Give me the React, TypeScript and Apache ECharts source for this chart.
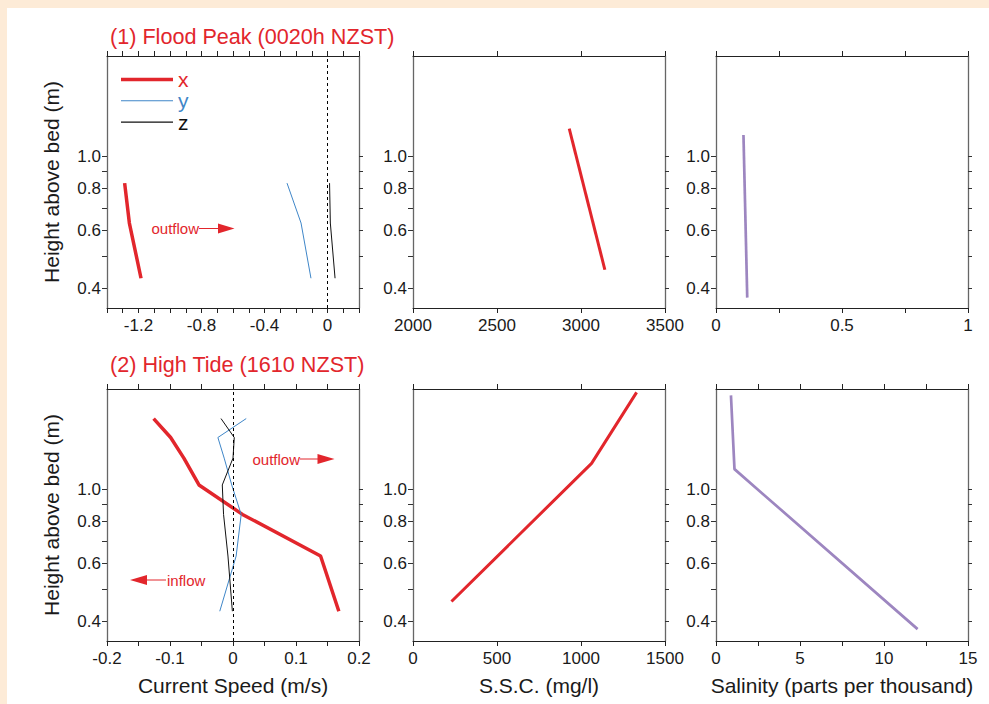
import React, { useEffect, useRef } from "react";
import * as echarts from "echarts";

// ---------- data ----------
// Panel (1) Flood Peak – current speed components
const heights1 = [0.83, 0.63, 0.43];
const speedX1 = [-1.288, -1.258, -1.184];
const speedY1 = [-0.257, -0.168, -0.105];
const speedZ1 = [0.013, 0.018, 0.048];
// Panel (1) SSC
const sscH1 = [1.21, 0.456];
const ssc1 = [2930, 3142];
// Panel (1) salinity
const salH1 = [1.158, 0.376];
const sal1 = [0.109, 0.124];

// Panel (2) High Tide – current speed components
const heights2 = [1.63, 1.43, 1.24, 1.03, 0.84, 0.63, 0.43];
const speedX2 = [-0.126, -0.099, -0.078, -0.054, 0.015, 0.139, 0.168];
const speedY2 = [0.021, -0.024, -0.014, -0.002, 0.013, 0.005, -0.021];
const speedZ2 = [-0.019, 0.002, 0.0, -0.017, -0.015, -0.008, -0.001];
// Panel (2) SSC
const sscH2 = [1.954, 1.196, 0.46];
const ssc2 = [1331, 1063, 229];
// Panel (2) salinity
const salH2 = [1.914, 1.149, 0.38];
const sal2 = [0.89, 1.1, 12.0];

// tick values
const yTickValues = [0.4, 0.5, 0.6, 0.7, 0.8, 0.9, 1.0];
const yLabelValues = [0.4, 0.6, 0.8, 1.0];
const speed1Ticks = [-1.4, -1.3, -1.2, -1.1, -1.0, -0.9, -0.8, -0.7, -0.6, -0.5, -0.4, -0.3, -0.2, -0.1, 0, 0.1, 0.2];
const speed1Labels = [-1.2, -0.8, -0.4, 0];
const ssc1Ticks = [2000, 2500, 3000, 3500];
const sal1Ticks = [0, 0.25, 0.5, 0.75, 1];
const sal1Labels = [0, 0.5, 1];
const speed2Ticks = [-0.2, -0.15, -0.1, -0.05, 0, 0.05, 0.1, 0.15, 0.2];
const speed2Labels = [-0.2, -0.1, 0, 0.1, 0.2];
const ssc2Ticks = [0, 500, 1000, 1500];
const sal2Ticks = [0, 2.5, 5, 7.5, 10, 12.5, 15];
const sal2Labels = [0, 5, 10, 15];

const titles = ["(1) Flood Peak (0020h NZST)", "(2) High Tide (1610 NZST)"];

// ---------- style ----------
const RED = "#E2262C";
const BLUE = "#3F86C8";
const PURPLE = "#9D86C0";
const BLACK = "#111111";
const PEACH = "#FDEBD7";
const FONT = '"Liberation Sans", Arial, Helvetica, sans-serif';
const TXT = "#1a1a1a";

const Y_MIN = Math.log10(0.35);
const Y_MAX = Math.log10(2);

const grids = [
  { left: 107, top: 56, width: 252, height: 252 },
  { left: 413, top: 56, width: 252, height: 252 },
  { left: 716, top: 56, width: 252, height: 252 },
  { left: 107, top: 389, width: 252, height: 252 },
  { left: 413, top: 389, width: 252, height: 252 },
  { left: 716, top: 389, width: 252, height: 252 },
];

const fmtNum = (v: number) => {
  const r = Math.round(v * 1000) / 1000;
  return String(r);
};

function makeX(gi: number, min: number, max: number, ticks: number[], labels: number[], name?: string) {
  const common = {
    type: "value",
    gridIndex: gi,
    min,
    max,
    splitLine: { show: false },
    axisLine: { show: true, onZero: false, lineStyle: { color: "#222", width: 1 } },
  };
  return [
    {
      ...common,
      position: "bottom",
      axisTick: { show: true, customValues: ticks, length: 5, lineStyle: { color: "#222" } },
      axisLabel: {
        show: true,
        customValues: labels,
        formatter: (v: number) => fmtNum(v),
        fontSize: 17,
        color: TXT,
        fontFamily: FONT,
        margin: 9,
      },
      name: name || "",
      nameLocation: "middle",
      nameGap: 34,
      nameTextStyle: { fontSize: 21, color: TXT, fontFamily: FONT },
    },
    {
      ...common,
      position: "top",
      axisTick: { show: true, customValues: ticks, length: 5, lineStyle: { color: "#222" } },
      axisLabel: { show: false },
    },
  ];
}

function makeY(gi: number, name?: string) {
  const ticks = yTickValues.map((v) => Math.log10(v));
  const labels = yLabelValues.map((v) => Math.log10(v));
  const common = {
    type: "value",
    gridIndex: gi,
    min: Y_MIN,
    max: Y_MAX,
    splitLine: { show: false },
    axisLine: { show: true, onZero: false, lineStyle: { color: "#666", width: 1.3 } },
  };
  return [
    {
      ...common,
      position: "left",
      axisTick: { show: true, customValues: ticks, length: 5, lineStyle: { color: "#333" } },
      axisLabel: {
        show: true,
        customValues: labels,
        formatter: (v: number) => Math.pow(10, v).toFixed(1),
        fontSize: 17,
        color: TXT,
        fontFamily: FONT,
        margin: 6,
      },
      name: name || "",
      nameLocation: "middle",
      nameGap: 45,
      nameRotate: 90,
      nameTextStyle: { fontSize: 21, color: TXT, fontFamily: FONT },
    },
    {
      ...common,
      position: "right",
      axisTick: { show: true, customValues: ticks, length: 4, lineStyle: { color: "#333" } },
      axisLabel: { show: false },
    },
  ];
}

const pts = (xs: number[], hs: number[]) => xs.map((x, i) => [x, Math.log10(hs[i])]);

function line(gi: number, name: string, data: number[][], color: string, width: number, extra: any = {}) {
  return {
    type: "line",
    name,
    xAxisIndex: 2 * gi,
    yAxisIndex: 2 * gi,
    data,
    symbol: "none",
    showSymbol: false,
    silent: true,
    lineStyle: { color, width, cap: "butt" },
    itemStyle: { color },
    ...extra,
  };
}

const zeroLine = {
  markLine: {
    silent: true,
    symbol: ["none", "none"],
    label: { show: false },
    lineStyle: { color: "#000", width: 1, type: [3, 3] },
    data: [{ xAxis: 0 }],
  },
};

function arrowRight(xText: number, y: number, x1: number, x2: number, x3: number, label: string) {
  return [
    { type: "text", x: xText, y, style: { text: label, fill: RED, fontSize: 15, fontFamily: FONT, align: "right", verticalAlign: "middle" } },
    { type: "line", shape: { x1, y1: y, x2: x2 + 1, y2: y }, style: { stroke: RED, lineWidth: 1 } },
    { type: "polygon", shape: { points: [[x2, y - 5], [x3, y], [x2, y + 5]] }, style: { fill: RED } },
  ];
}

export default function App() {
  const ref = useRef<HTMLDivElement>(null);
  useEffect(() => {
    if (!ref.current) return;
    const chart = echarts.init(ref.current, undefined, { renderer: "svg" });
    const option: any = {
      animation: false,
      backgroundColor: "#ffffff",
      textStyle: { fontFamily: FONT },
      grid: grids.map((g) => ({ ...g, containLabel: false })),
      xAxis: [
        ...makeX(0, -1.4, 0.2, speed1Ticks, speed1Labels),
        ...makeX(1, 2000, 3500, ssc1Ticks, ssc1Ticks),
        ...makeX(2, 0, 1, sal1Ticks, sal1Labels),
        ...makeX(3, -0.2, 0.2, speed2Ticks, speed2Labels, "Current Speed (m/s)"),
        ...makeX(4, 0, 1500, ssc2Ticks, ssc2Ticks, "S.S.C. (mg/l)"),
        ...makeX(5, 0, 15, sal2Ticks, sal2Labels, "Salinity (parts per thousand)"),
      ],
      yAxis: [
        ...makeY(0, "Height above bed (m)"),
        ...makeY(1),
        ...makeY(2),
        ...makeY(3, "Height above bed (m)"),
        ...makeY(4),
        ...makeY(5),
      ],
      legend: {
        data: [
          { name: "x", icon: "path://M0,0 H52 V3.5 H0 Z", textStyle: { color: RED } },
          { name: "y", icon: "path://M0,0 H52 V1 H0 Z", textStyle: { color: BLUE } },
          { name: "z", icon: "path://M0,0 H52 V1.2 H0 Z", textStyle: { color: BLACK } },
        ],
        symbolKeepAspect: true,
        orient: "vertical",
        left: 121,
        top: 69,
        padding: 0,
        itemWidth: 52,
        itemHeight: 14,
        itemGap: 0.3,
        selectedMode: false,
        textStyle: { fontSize: 21, lineHeight: 20, fontFamily: FONT },
      },
      series: [
        line(0, "x", pts(speedX1, heights1), RED, 3.5),
        line(0, "y", pts(speedY1, heights1), BLUE, 1),
        line(0, "z", pts(speedZ1, heights1), BLACK, 1, zeroLine),
        line(1, "ssc1", pts(ssc1, sscH1), RED, 3),
        line(2, "sal1", pts(sal1, salH1), PURPLE, 2.7),
        line(3, "x", pts(speedX2, heights2), RED, 3.5),
        line(3, "y", pts(speedY2, heights2), BLUE, 1),
        line(3, "z", pts(speedZ2, heights2), BLACK, 1, zeroLine),
        line(4, "ssc2", pts(ssc2, sscH2), RED, 3),
        line(5, "sal2", pts(sal2, salH2), PURPLE, 2.7),
      ],
      graphic: [
        { type: "rect", shape: { x: 0, y: 0, width: 989, height: 8 }, style: { fill: PEACH }, silent: true },
        { type: "rect", shape: { x: 0, y: 0, width: 7, height: 704 }, style: { fill: PEACH }, silent: true },
        { type: "text", x: 110, y: 36, style: { text: titles[0], fill: RED, fontSize: 21.6, fontFamily: FONT, align: "left", verticalAlign: "middle" } },
        { type: "text", x: 110, y: 364, style: { text: titles[1], fill: RED, fontSize: 21.6, fontFamily: FONT, align: "left", verticalAlign: "middle" } },
        ...arrowRight(199, 228.5, 199, 218, 234.5, "outflow"),
        ...arrowRight(300, 459, 300, 317.5, 334.5, "outflow"),
        { type: "text", x: 167, y: 580, style: { text: "inflow", fill: RED, fontSize: 15, fontFamily: FONT, align: "left", verticalAlign: "middle" } },
        { type: "line", shape: { x1: 146, y1: 580, x2: 166, y2: 580 }, style: { stroke: RED, lineWidth: 1 } },
        { type: "polygon", shape: { points: [[147, 575], [130, 580], [147, 585]] }, style: { fill: RED } },
      ],
    };
    chart.setOption(option);
    return () => chart.dispose();
  }, []);
  return (
    <div
      ref={ref}
      style={{ position: "fixed", left: 0, top: 0, width: 989, height: 704 }}
    />
  );
}
